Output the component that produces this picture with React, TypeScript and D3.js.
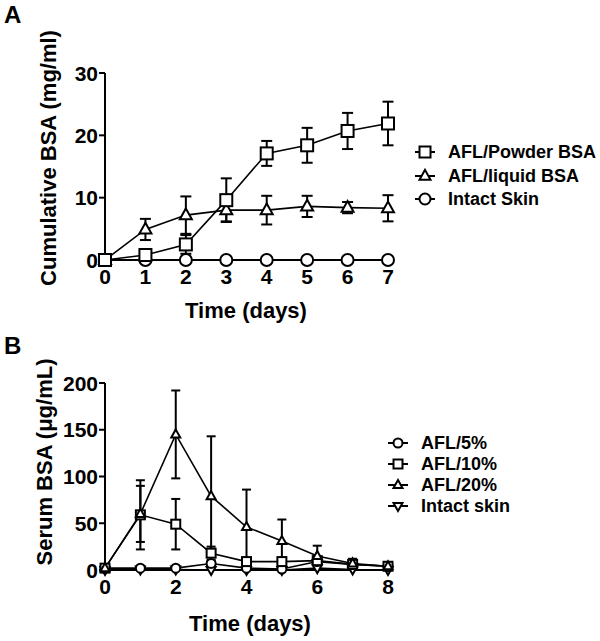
import React from "react";
import * as d3 from "d3";

// Panel A data (days 0..7)
const daysA = [0, 1, 2, 3, 4, 5, 6, 7];
const powderMean = [0, 0.8, 2.5, 9.6, 17.1, 18.4, 20.7, 21.9];
const powderErr = [0, 0.8, 1.5, 3.5, 2.0, 2.8, 2.9, 3.5];
const liquidMean = [0, 4.9, 7.2, 8.0, 8.0, 8.6, 8.4, 8.3];
const liquidErr = [0, 1.7, 3.0, 1.8, 2.3, 1.7, 0.9, 2.1];
const intactAMean = [0, 0, 0, 0, 0, 0, 0, 0];
const intactAErr = [0, 0, 0, 0, 0, 0, 0, 0];
const ticksAx = [0, 1, 2, 3, 4, 5, 6, 7];
const ticksAy = [0, 10, 20, 30];
const legendA = ["AFL/Powder BSA", "AFL/liquid BSA", "Intact Skin"];

// Panel B data (days 0..8)
const daysB = [0, 1, 2, 3, 4, 5, 6, 7, 8];
const p5Mean = [2, 2, 2, 7, 2, 1, 9, 6, 4];
const p5Err = [0, 0, 0, 2, 0, 0, 2, 0, 0];
const p10Mean = [2, 59, 49, 18, 9, 9, 10, 6, 4];
const p10Err = [0, 37, 27, 7, 2, 3, 2, 2, 0];
const p20Mean = [2, 60, 145, 79, 46, 31, 15, 7, 4];
const p20Err = [0, 30, 47, 64, 40, 23, 11, 5, 0];
const intactBMean = [0, 0.5, 0.5, 0, 0, 0, 2, 0.5, 0];
const intactBErr = [0, 0, 0, 0, 0, 0, 0, 0, 0];
const ticksBx = [0, 2, 4, 6, 8];
const ticksBy = [0, 50, 100, 150, 200];
const legendB = ["AFL/5%", "AFL/10%", "AFL/20%", "Intact skin"];

const FONT = "'Liberation Sans', Arial, Helvetica, sans-serif";

type Shape = "square" | "triangle" | "circle" | "down";

function Marker({ shape, x, y, s }: { shape: Shape; x: number; y: number; s: number }) {
  const common = { fill: "white", stroke: "black", strokeWidth: 2 };
  if (shape === "square")
    return <rect x={x - s / 2} y={y - s / 2} width={s} height={s} {...common} />;
  if (shape === "circle") return <circle cx={x} cy={y} r={s / 2} {...common} />;
  const h = s * 0.9;
  if (shape === "triangle")
    return (
      <path
        d={`M${x},${y - h * 0.62}L${x + s / 2},${y + h * 0.38}L${x - s / 2},${y + h * 0.38}Z`}
        {...common}
      />
    );
  return (
    <path
      d={`M${x},${y + h * 0.62}L${x + s / 2},${y - h * 0.38}L${x - s / 2},${y - h * 0.38}Z`}
      {...common}
    />
  );
}

type Series = { mean: number[]; err: number[]; shape: Shape };

function Panel({
  xs,
  series,
  x,
  y,
  xTicks,
  yTicks,
  size,
  cap,
  drawOrder,
}: {
  xs: number[];
  series: Series[];
  x: d3.ScaleLinear<number, number>;
  y: d3.ScaleLinear<number, number>;
  xTicks: number[];
  yTicks: number[];
  size: number;
  cap: number;
  drawOrder: number[];
}) {
  const line = d3
    .line<number>()
    .x((_, i) => x(xs[i]))
    .y((d) => y(d));
  const [x0, x1] = x.range();
  const [y0, y1] = y.range();
  return (
    <g>
      {/* axes */}
      <line x1={x0} x2={x0} y1={y0 + 1} y2={y1} stroke="black" strokeWidth={2} />
      <line x1={x0} x2={x1} y1={y0} y2={y0} stroke="black" strokeWidth={2} />
      {yTicks.map((t) => (
        <g key={"y" + t}>
          <line x1={x0 - 6} x2={x0} y1={y(t)} y2={y(t)} stroke="black" strokeWidth={2} />
          <text
            x={x0 - 7}
            y={y(t)}
            dy="0.36em"
            textAnchor="end"
            fontFamily={FONT}
            fontWeight="bold"
            fontSize={21}
          >
            {t}
          </text>
        </g>
      ))}
      {xTicks.map((t) => (
        <text
          key={"x" + t}
          x={x(t)}
          y={y0 + 24}
          textAnchor="middle"
          fontFamily={FONT}
          fontWeight="bold"
          fontSize={21}
        >
          {t}
        </text>
      ))}
      {/* lines */}
      {drawOrder.map((k) => (
        <path key={"l" + k} d={line(series[k].mean) || ""} fill="none" stroke="black" strokeWidth={1.6} />
      ))}
      {/* error bars */}
      {drawOrder.map((k) =>
        series[k].mean.map((m, i) =>
          series[k].err[i] > 0 ? (
            <g key={"e" + k + "_" + i} stroke="black" strokeWidth={2}>
              <line x1={x(xs[i])} x2={x(xs[i])} y1={y(m - series[k].err[i])} y2={y(m + series[k].err[i])} />
              <line x1={x(xs[i]) - cap / 2} x2={x(xs[i]) + cap / 2} y1={y(m + series[k].err[i])} y2={y(m + series[k].err[i])} />
              <line x1={x(xs[i]) - cap / 2} x2={x(xs[i]) + cap / 2} y1={y(m - series[k].err[i])} y2={y(m - series[k].err[i])} />
            </g>
          ) : null
        )
      )}
      {/* markers */}
      {drawOrder.map((k) =>
        series[k].mean.map((m, i) => (
          <Marker key={"m" + k + "_" + i} shape={series[k].shape} x={x(xs[i])} y={y(m)} s={size} />
        ))
      )}
    </g>
  );
}

function Legend({
  items,
  shapes,
  x,
  ys,
  size,
}: {
  items: string[];
  shapes: Shape[];
  x: number;
  ys: number[];
  size: number;
}) {
  return (
    <g>
      {items.map((t, i) => (
        <g key={t}>
          <line x1={x - 10} x2={x + 10} y1={ys[i]} y2={ys[i]} stroke="black" strokeWidth={2} />
          <Marker shape={shapes[i]} x={x} y={ys[i]} s={size} />
          <text
            x={x + 23}
            y={ys[i]}
            dy="0.36em"
            fontFamily={FONT}
            fontWeight="bold"
            fontSize={18}
          >
            {t}
          </text>
        </g>
      ))}
    </g>
  );
}

export default function App() {
  const xA = d3.scaleLinear().domain([0, 7]).range([105, 388]);
  const yA = d3.scaleLinear().domain([0, 30]).range([260, 73]);
  const xB = d3.scaleLinear().domain([0, 8]).range([105, 388]);
  const yB = d3.scaleLinear().domain([0, 200]).range([570, 383]);

  const seriesA: Series[] = [
    { mean: powderMean, err: powderErr, shape: "square" },
    { mean: liquidMean, err: liquidErr, shape: "triangle" },
    { mean: intactAMean, err: intactAErr, shape: "circle" },
  ];
  const seriesB: Series[] = [
    { mean: p5Mean, err: p5Err, shape: "circle" },
    { mean: p10Mean, err: p10Err, shape: "square" },
    { mean: p20Mean, err: p20Err, shape: "triangle" },
    { mean: intactBMean, err: intactBErr, shape: "down" },
  ];

  return (
    <svg
      width={600}
      height={641}
      style={{ position: "absolute", left: 0, top: 0, background: "white" }}
    >
      <rect width={600} height={641} fill="white" />
      <text x={4} y={23} fontFamily={FONT} fontWeight="bold" fontSize={24}>
        A
      </text>
      <text x={4} y={354} fontFamily={FONT} fontWeight="bold" fontSize={24}>
        B
      </text>

      <Panel
        xs={daysA}
        series={seriesA}
        x={xA}
        y={yA}
        xTicks={ticksAx}
        yTicks={ticksAy}
        size={12}
        cap={11}
        drawOrder={[2, 1, 0]}
      />
      <text
        transform="translate(56,158) rotate(-90)"
        textAnchor="middle"
        fontFamily={FONT}
        fontWeight="bold"
        fontSize={22}
      >
        Cumulative BSA (mg/ml)
      </text>
      <text x={246} y={318} textAnchor="middle" fontFamily={FONT} fontWeight="bold" fontSize={22}>
        Time (days)
      </text>
      <Legend items={legendA} shapes={["square", "triangle", "circle"]} x={425} ys={[152, 176, 199]} size={11} />

      <Panel
        xs={daysB}
        series={seriesB}
        x={xB}
        y={yB}
        xTicks={ticksBx}
        yTicks={ticksBy}
        size={9}
        cap={9}
        drawOrder={[3, 0, 1, 2]}
      />
      <text
        transform="translate(52,462) rotate(-90)"
        textAnchor="middle"
        fontFamily={FONT}
        fontWeight="bold"
        fontSize={22}
      >
        Serum BSA (μg/mL)
      </text>
      <text x={250} y={631} textAnchor="middle" fontFamily={FONT} fontWeight="bold" fontSize={22}>
        Time (days)
      </text>
      <Legend items={legendB} shapes={["circle", "square", "triangle", "down"]} x={398} ys={[443, 464, 485, 506]} size={9} />
    </svg>
  );
}
